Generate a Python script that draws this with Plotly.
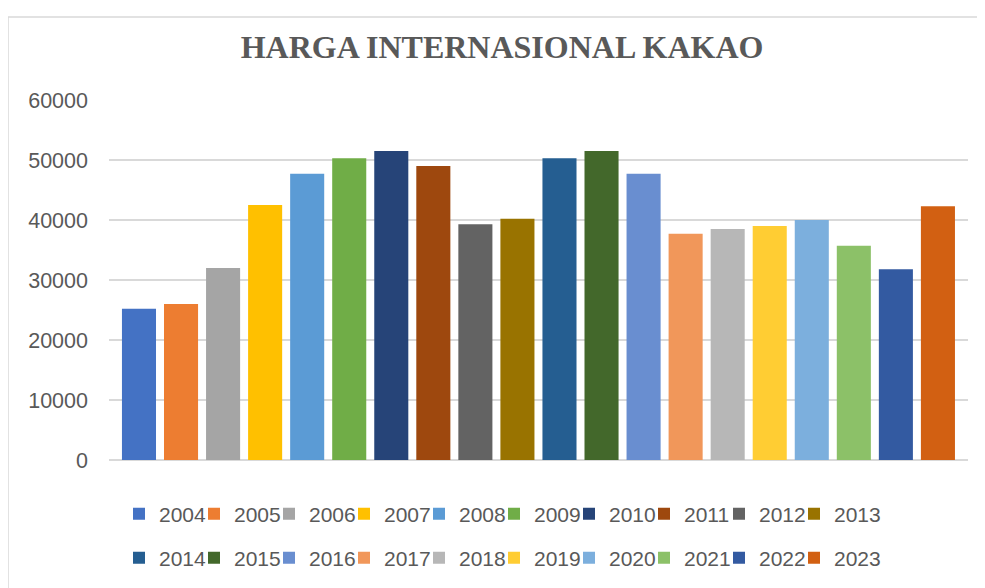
import plotly.graph_objects as go

years = ["2004", "2005", "2006", "2007", "2008", "2009", "2010", "2011", "2012", "2013",
         "2014", "2015", "2016", "2017", "2018", "2019", "2020", "2021", "2022", "2023"]
prices = [25200, 26000, 32000, 42500, 47700, 50300, 51500, 49000, 39300, 40200,
          50300, 51500, 47700, 37700, 38500, 39000, 40000, 35700, 31800, 42300]
colors = ["#4472C4", "#ED7D31", "#A5A5A5", "#FFC000", "#5B9BD5", "#70AD47", "#264478",
          "#9E480E", "#636363", "#997300", "#255E91", "#43682B", "#698ED0", "#F1975A",
          "#B7B7B7", "#FFCD33", "#7CAFDD", "#8CC168", "#335AA1", "#D26012"]
y_ticks = [0, 10000, 20000, 30000, 40000, 50000, 60000]

# page body has an 8px margin; work in screen pixels and shift
OFF = 8
W, H = 985 - OFF, 588 - OFF
L, R, T, B = 109 - OFF, 17, 100 - OFF, 128
PW, PH = W - L - R, H - T - B


def px_x(p):
    return (p - OFF - L) / PW


def px_y(p):
    return (H - B - (p - OFF)) / PH


fig = go.Figure()
for i, (yr, v, c) in enumerate(zip(years, prices, colors)):
    last_in_row = (i == 9 or i == 19)
    fig.add_trace(go.Bar(
        x=[yr], y=[v], name=yr, marker=dict(color=c, line=dict(width=0)),
        width=0.81, legend="legend" if i < 10 else "legend2",
        legendwidth=60 if last_in_row else None,
    ))

legend_common = dict(
    orientation="h", entrywidth=30, xanchor="left", yanchor="middle",
    font=dict(family="Liberation Sans, Arial, sans-serif", size=21, color="#595959"),
    bgcolor="rgba(0,0,0,0)", borderwidth=0, traceorder="normal",
)

fig.update_layout(
    width=W, height=H,
    margin=dict(l=L, r=R, t=T, b=B, autoexpand=False),
    paper_bgcolor="white", plot_bgcolor="white",
    barmode="relative",
    showlegend=True,
    title=dict(
        text="<b>HARGA INTERNASIONAL KAKAO</b>",
        font=dict(family="Liberation Serif, Times New Roman, serif", size=32, color="#595959"),
        x=(502 - OFF) / W, xref="container", xanchor="center",
        y=1 - (47 - OFF) / H, yref="container", yanchor="middle",
    ),
    xaxis=dict(
        type="category", range=[-0.713, 19.715], showticklabels=False,
        showgrid=False, zeroline=False, showline=False, ticks="", fixedrange=True,
    ),
    yaxis=dict(
        range=[0, 60000], tickvals=y_ticks, ticktext=[str(t) for t in y_ticks],
        showgrid=True, gridcolor="#D9D9D9", gridwidth=2,
        zeroline=True, zerolinecolor="#D9D9D9", zerolinewidth=2,
        showline=False, ticks="", ticklabelstandoff=20,
        tickfont=dict(family="Liberation Sans, Arial, sans-serif", size=21.5, color="#595959"),
    ),
    legend=dict(x=px_x(119), y=px_y(514), **legend_common),
    legend2=dict(x=px_x(119), y=px_y(558), **legend_common),
    shapes=[dict(
        type="rect", xref="paper", yref="paper",
        x0=px_x(8), x1=px_x(985 + 10), y0=px_y(588 + 10), y1=px_y(17),
        line=dict(color="#D9D9D9", width=1.5), fillcolor="rgba(0,0,0,0)", layer="below",
    )],
)

fig.write_html("out.html")
